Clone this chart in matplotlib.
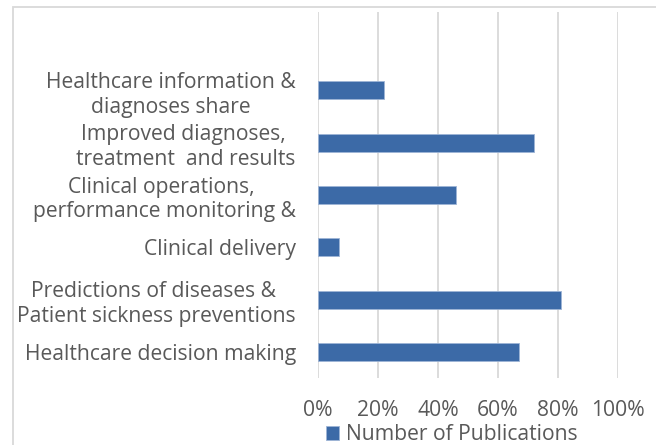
import matplotlib
matplotlib.use("Agg")
import matplotlib.pyplot as plt
import matplotlib.patches as patches
from matplotlib.ticker import PercentFormatter

# categories listed bottom -> top, as drawn
categories = [
    "Healthcare decision making",
    "Predictions of diseases & \nPatient sickness preventions",
    "Clinical delivery",
    "Clinical operations, \nperformance monitoring &",
    "Improved diagnoses, \ntreatment  and results",
    "Healthcare information &\ndiagnoses share",
]
publications = [67, 81, 7, 46, 72, 22]
x_ticks = [0, 20, 40, 60, 80, 100]

plt.rcParams['font.family'] = ['Open Sans', 'DejaVu Sans']
text_col = '#595959'
grid_col = '#D9D9D9'
fs = 15.2

fig = plt.figure(figsize=(6.56, 4.45), dpi=100)
ax = fig.add_axes([318 / 656, 1 - 378 / 445, 300 / 656, 366 / 445])

ypos = range(len(categories))
ax.barh(ypos, publications, height=0.345, color='#3C6AA7',
        edgecolor='#9DB4D6', linewidth=0.6, label='Number of Publications', zorder=3)

ax.set_xlim(0, 100)
ax.set_ylim(-0.5, len(categories) + 0.5)
ax.set_xticks(x_ticks)
ax.xaxis.set_major_formatter(PercentFormatter(decimals=0))
ax.set_yticks(list(ypos))
ax.set_yticklabels(categories)
for lbl in ax.get_yticklabels():
    lbl.set_multialignment('center')
    lbl.set_linespacing(1.25)

ax.tick_params(axis='x', length=0, pad=16, labelsize=fs, labelcolor=text_col)
ax.tick_params(axis='y', length=0, pad=16, labelsize=fs, labelcolor=text_col)
ax.grid(axis='x', color=grid_col, linewidth=1.3, zorder=0)
for s in ax.spines.values():
    s.set_visible(False)

# chart area border (only left/top visible in crop)
border = patches.Rectangle((13 / 656, -0.1), 1.0, 1.1 - 7.5 / 445,
                           transform=fig.transFigure, fill=False,
                           edgecolor=grid_col, linewidth=1.3)
fig.patches.append(border)

fig.legend(loc='center', bbox_to_anchor=(452 / 656, 1 - 435 / 445), frameon=False,
           fontsize=fs, labelcolor=text_col, handlelength=0.6, handleheight=0.6,
           handletextpad=0.35, borderpad=0)

fig.savefig('out.png', dpi=100)
